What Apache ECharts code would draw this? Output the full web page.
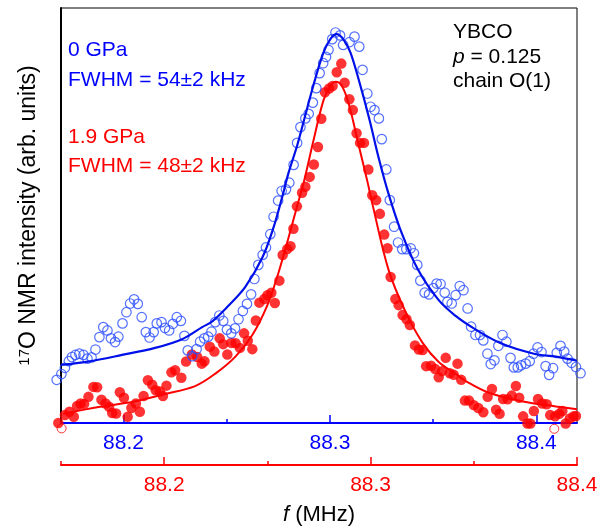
<!DOCTYPE html>
<html><head><meta charset="utf-8">
<script src="https://cdn.jsdelivr.net/npm/echarts@6/dist/echarts.min.js"></script>
<style>html,body{margin:0;padding:0;background:#fff}#c{width:616px;height:526px}</style>
</head><body><div id="c"></div>
<script>
// ---- axis ticks ----
const majorTicks = [88.2, 88.3, 88.4];
const blueMinorTicks = [88.25, 88.35];
const redMinorTicks = [88.15, 88.25, 88.35];
const blueRange = [88.1697, 88.4197];   // 0 GPa frequency axis
const redRange = [88.15, 88.40];        // 1.9 GPa frequency axis

// ---- 0 GPa (open blue circles): [f MHz, intensity arb.] ----
const data0GPa = [
[88.1676,10.4],[88.1699,11.8],[88.1716,13.3],[88.1735,14.9],[88.1750,15.9],[88.1767,16.4],[88.1786,16.7],[88.1806,16.4],
[88.1825,15.5],[88.1845,15.8],[88.1864,17.7],[88.1883,20.7],[88.1902,23.1],[88.1922,22.3],[88.1939,20.4],[88.1959,19.5],
[88.1975,20.8],[88.1995,24.0],[88.2014,26.7],[88.2032,28.8],[88.2051,29.8],[88.2069,28.7],[88.2088,25.5],[88.2108,21.9],
[88.2126,20.6],[88.2146,21.9],[88.2161,24.0],[88.2184,24.3],[88.2201,22.9],[88.2221,22.3],[88.2239,23.9],[88.2258,25.5],
[88.2278,24.6],[88.2295,21.0],[88.2311,17.5],[88.2333,16.1],[88.2354,17.8],[88.2371,19.6],[88.2391,20.4],[88.2410,20.8],
[88.2426,22.0],[88.2444,24.3],[88.2464,25.9],[88.2483,24.6],[88.2501,22.5],[88.2522,21.6],[88.2540,22.8],[88.2557,25.0],
[88.2578,27.0],[88.2598,28.7],[88.2618,31.0],[88.2634,34.7],[88.2653,38.1],[88.2674,40.5],[88.2690,42.3],[88.2711,45.5],
[88.2727,49.7],[88.2749,53.6],[88.2766,55.9],[88.2787,56.3],[88.2803,57.9],[88.2824,62.2],[88.2841,67.5],[88.2857,71.3],
[88.2881,73.4],[88.2897,74.5],[88.2917,77.2],[88.2934,80.7],[88.2950,84.3],[88.2967,86.7],[88.2981,88.2],[88.2993,89.9],
[88.3011,92.5],[88.3027,94.1],[88.3049,93.4],[88.3064,91.1],[88.3095,91.8],[88.3119,93.1],[88.3142,90.7],[88.3158,85.1],
[88.3181,79.4],[88.3197,76.2],[88.3216,75.4],[88.3237,73.4],[88.3251,68.4],[88.3273,61.1],[88.3290,53.7],[88.3311,47.3],
[88.3330,43.5],[88.3350,41.9],[88.3370,41.9],[88.3391,42.1],[88.3407,40.9],[88.3423,38.1],[88.3438,34.3],[88.3459,31.4],
[88.3480,31.0],[88.3501,32.5],[88.3517,33.6],[88.3536,33.5],[88.3556,31.4],[88.3569,29.2],[88.3590,28.8],[88.3609,30.8],
[88.3629,33.0],[88.3647,32.0],[88.3667,27.6],[88.3684,23.2],[88.3705,21.2],[88.3727,21.2],[88.3743,19.9],[88.3763,16.7],
[88.3779,14.2],[88.3797,15.1],[88.3816,18.6],[88.3836,21.2],[88.3855,19.6],[88.3875,15.7],[88.3891,13.4],[88.3910,13.4],
[88.3926,13.9],[88.3948,14.3],[88.3968,14.9],[88.3986,16.7],[88.4006,18.2],[88.4025,17.1],[88.4045,13.7],[88.4062,11.6],
[88.4081,13.2],[88.4099,16.9],[88.4117,18.6],[88.4135,17.2],[88.4151,15.5],[88.4171,14.5],[88.4192,13.5],[88.4214,12.0]
];
// ---- 0 GPa fit curve ----
const fit0GPa = [
[88.1697,14.0],[88.1828,14.8],[88.1993,16.4],[88.2153,18.1],[88.2284,20.2],[88.2381,23.1],[88.2430,24.5],[88.2507,28.2],
[88.2590,32.8],[88.2672,39.8],[88.2726,47.0],[88.2769,54.5],[88.2799,60.2],[88.2842,67.0],[88.2881,74.2],[88.2920,81.4],
[88.2968,89.2],[88.3002,92.5],[88.3032,93.7],[88.3066,92.4],[88.3100,89.2],[88.3148,81.2],[88.3192,73.0],[88.3235,64.1],
[88.3284,55.2],[88.3342,46.5],[88.3425,37.1],[88.3527,29.6],[88.3609,25.8],[88.3697,22.8],[88.3828,19.2],[88.3988,16.7],
[88.4095,16.0],[88.4197,15.0]
];
// ---- 1.9 GPa (filled red dots) ----
const data19GPa = [
[88.1487,0.0],[88.1519,1.9],[88.1541,2.7],[88.1562,1.5],[88.1578,4.1],[88.1595,4.7],[88.1612,4.6],[88.1633,6.3],
[88.1657,8.7],[88.1675,8.6],[88.1696,5.6],[88.1716,4.7],[88.1733,3.9],[88.1748,2.4],[88.1767,2.3],[88.1785,7.4],
[88.1805,6.1],[88.1823,1.5],[88.1841,3.6],[88.1863,4.7],[88.1882,2.7],[88.1900,6.5],[88.1921,10.3],[88.1942,9.2],
[88.1959,7.9],[88.1979,7.6],[88.1994,6.5],[88.2011,9.0],[88.2035,12.2],[88.2053,12.7],[88.2083,10.9],[88.2106,14.8],
[88.2134,16.5],[88.2160,15.9],[88.2182,14.3],[88.2195,14.9],[88.2221,18.4],[88.2243,17.2],[88.2269,20.4],[88.2286,19.0],
[88.2306,16.5],[88.2325,19.3],[88.2346,19.2],[88.2367,18.1],[88.2387,21.6],[88.2405,19.8],[88.2427,17.8],[88.2444,24.7],
[88.2461,29.0],[88.2485,29.9],[88.2500,30.8],[88.2519,31.4],[88.2536,28.9],[88.2558,34.3],[88.2574,40.5],[88.2596,41.9],
[88.2612,42.6],[88.2626,46.8],[88.2643,52.2],[88.2668,55.5],[88.2684,56.9],[88.2705,59.3],[88.2725,62.3],[88.2745,66.5],
[88.2761,73.3],[88.2779,79.7],[88.2799,80.6],[88.2816,81.2],[88.2836,84.5],[88.2858,86.6],[88.2874,82.0],[88.2897,78.0],
[88.2914,75.4],[88.2932,69.8],[88.2949,67.5],[88.2968,67.5],[88.2989,61.1],[88.3008,54.9],[88.3027,53.7],[88.3045,50.4],
[88.3066,45.4],[88.3082,42.1],[88.3097,35.2],[88.3120,29.9],[88.3136,28.4],[88.3155,26.0],[88.3174,25.0],[88.3190,23.6],
[88.3215,18.7],[88.3234,17.7],[88.3252,17.6],[88.3269,13.7],[88.3293,13.8],[88.3313,13.0],[88.3330,11.0],[88.3346,12.5],
[88.3364,15.7],[88.3384,12.0],[88.3403,11.6],[88.3421,14.3],[88.3439,10.4],[88.3457,5.4],[88.3477,5.4],[88.3500,4.3],
[88.3522,3.6],[88.3546,2.6],[88.3567,6.3],[88.3588,8.2],[88.3608,3.2],[88.3625,2.2],[88.3642,5.8],[88.3664,5.7],
[88.3684,6.6],[88.3704,8.9],[88.3720,6.1],[88.3739,1.6],[88.3760,-0.1],[88.3774,-0.1],[88.3791,2.9],[88.3811,5.8],
[88.3832,4.7],[88.3853,4.5],[88.3870,1.9],[88.3894,1.6],[88.3914,2.2],[88.3929,2.9],[88.3945,-0.1],[88.3965,1.1],
[88.3983,1.6],[88.3995,1.7]
];
const extra19GPa = [[88.1503,-1.3],[88.3890,-1.4]];
// ---- 1.9 GPa fit curve ----
const fit19GPa = [
[88.1510,2.2],[88.1689,3.9],[88.1850,5.1],[88.2005,7.0],[88.2150,8.9],[88.2248,11.9],[88.2345,16.0],[88.2427,21.2],
[88.2500,28.4],[88.2553,36.1],[88.2602,44.6],[88.2636,50.8],[88.2675,57.8],[88.2723,68.0],[88.2772,77.8],[88.2806,81.2],
[88.2830,82.2],[88.2859,81.4],[88.2893,77.1],[88.2942,67.0],[88.2985,58.1],[88.3010,52.5],[88.3087,36.9],[88.3170,26.7],
[88.3252,19.3],[88.3330,14.7],[88.3413,11.8],[88.3461,10.1],[88.3573,7.3],[88.3738,5.2],[88.3898,4.0],[88.4000,3.3]
];

const FONT = '"Liberation Sans", Arial, Helvetica, sans-serif';
const BLUE = '#0000ff', RED = '#ff0000';

const chart = echarts.init(document.getElementById('c'), null, {renderer: 'canvas'});
function tickAxis(range, color, ticks, len, showLine, showLabel, offset, extra) {
  return Object.assign({
    type: 'value', min: range[0], max: range[1], position: 'bottom', offset: offset,
    axisLine: {show: showLine, onZero: false, lineStyle: {color: color, width: 2}},
    axisTick: {show: true, inside: true, length: len, customValues: ticks, lineStyle: {color: color, width: 1.5}},
    axisLabel: {show: showLabel, customValues: ticks, color: color, fontSize: 21, fontFamily: FONT, margin: 10,
      formatter: v => v.toFixed(1)},
    splitLine: {show: false}
  }, extra || {});
}
chart.setOption({
  animation: false,
  grid: {left: 61, right: 39, top: 8, bottom: 103, show: true, borderColor: '#000', borderWidth: 1,
    outerBoundsMode: 'none', containLabel: false},
  xAxis: [
    tickAxis(blueRange, BLUE, majorTicks, 8, true, true, 0),
    tickAxis(blueRange, BLUE, blueMinorTicks, 4, false, false, 0),
    tickAxis(redRange, RED, majorTicks, 8, true, true, 42, {
      name: '{i|f} (MHz)', nameLocation: 'middle', nameGap: 39,
      nameTextStyle: {color: '#000', fontSize: 22, fontFamily: FONT,
        rich: {i: {fontStyle: 'italic', fontSize: 22, fontFamily: FONT, color: '#000'}}}
    }),
    tickAxis(redRange, RED, redMinorTicks, 4, false, false, 42)
  ],
  yAxis: {
    type: 'value', min: 0, max: 100,
    axisLine: {show: true, lineStyle: {color: '#000', width: 2}},
    axisTick: {show: false}, axisLabel: {show: false}, splitLine: {show: false},
    name: '{s|17}O NMR intensity (arb. units)', nameLocation: 'middle', nameGap: 21, nameRotate: 90,
    nameTextStyle: {color: '#000', fontSize: 23, fontFamily: FONT,
      rich: {s: {fontSize: 15, fontFamily: FONT, color: '#000', verticalAlign: 'top', lineHeight: 23}}}
  },
  series: [
    {type: 'scatter', xAxisIndex: 2, data: data19GPa, symbol: 'circle', symbolSize: 10.5, clip: false,
      itemStyle: {color: RED}, z: 2},
    {type: 'scatter', xAxisIndex: 2, data: extra19GPa, symbol: 'circle', symbolSize: 9, clip: false,
      itemStyle: {color: 'rgba(0,0,0,0)', borderColor: RED, borderWidth: 1}, z: 2},
    {type: 'line', xAxisIndex: 2, data: fit19GPa, smooth: 0.35, showSymbol: false, clip: false,
      lineStyle: {color: RED, width: 2}, z: 3},
    {type: 'scatter', xAxisIndex: 0, data: data0GPa, symbol: 'circle', symbolSize: 9.5, clip: false,
      itemStyle: {color: 'rgba(0,0,0,0)', borderColor: '#2a4dff', borderWidth: 1.2}, z: 4},
    {type: 'line', xAxisIndex: 0, data: fit0GPa, smooth: 0.35, showSymbol: false, clip: false,
      lineStyle: {color: '#0010e8', width: 2.2}, z: 5}
  ],
  graphic: [
    {type: 'text', x: 68, y: 50, style: {text: '0 GPa', fill: BLUE, font: '21px ' + FONT, verticalAlign: 'middle'}},
    {type: 'text', x: 68, y: 80, style: {text: 'FWHM = 54\u00b12 kHz', fill: BLUE, font: '21px ' + FONT, verticalAlign: 'middle'}},
    {type: 'text', x: 68, y: 137, style: {text: '1.9 GPa', fill: RED, font: '21px ' + FONT, verticalAlign: 'middle'}},
    {type: 'text', x: 68, y: 166, style: {text: 'FWHM = 48\u00b12 kHz', fill: RED, font: '21px ' + FONT, verticalAlign: 'middle'}},
    {type: 'text', x: 453, y: 32, style: {text: 'YBCO', fill: '#000', font: '21px ' + FONT, verticalAlign: 'middle'}},
    {type: 'text', x: 453, y: 57, style: {text: '{i|p} = 0.125', fill: '#000', font: '21px ' + FONT, verticalAlign: 'middle',
      rich: {i: {fontStyle: 'italic', fontSize: 21, fontFamily: FONT, fill: '#000'}}}},
    {type: 'text', x: 453, y: 81, style: {text: 'chain O(1)', fill: '#000', font: '21px ' + FONT, verticalAlign: 'middle'}}
  ]
});
</script></body></html>
